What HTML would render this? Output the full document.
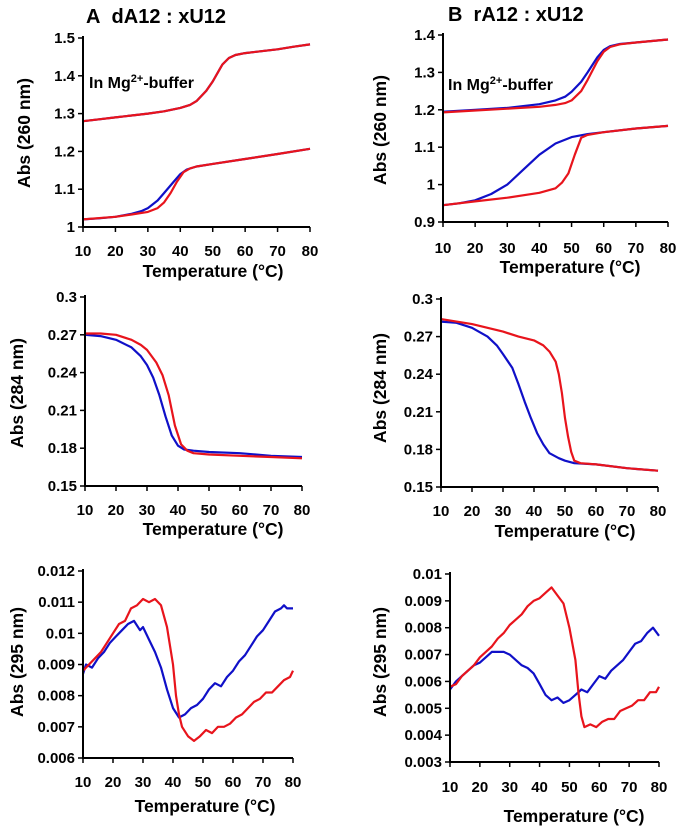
<!DOCTYPE html>
<html><head><meta charset="utf-8">
<style>
body{margin:0;background:#fff;}
svg{display:block;font-family:"Liberation Sans",Arial,sans-serif;font-weight:bold;}
</style></head>
<body>
<svg id="fig" width="694" height="827" viewBox="0 0 694 827"></svg>
<script>
// ---- data ----
const xTicks=[10,20,30,40,50,60,70,80];
const a1Ticks=[1,1.1,1.2,1.3,1.4,1.5];
const a1TopT=[10,15,20,25,30,35,40,43,45,48,50,52,53,55,57,60,65,70,75,80];
const a1TopV=[1.28,1.285,1.29,1.295,1.30,1.306,1.315,1.323,1.333,1.36,1.385,1.415,1.43,1.447,1.455,1.46,1.465,1.47,1.477,1.483];
const a1BlueT=[10,15,20,25,28,30,33,35,38,40,42,45,50,60,70,80];
const a1BlueV=[1.02,1.023,1.027,1.035,1.042,1.05,1.07,1.09,1.12,1.14,1.152,1.16,1.167,1.18,1.193,1.207];
const a1RedT=[10,20,25,30,33,35,37,39,41,43,45,50,60,70,80];
const a1RedV=[1.02,1.027,1.033,1.04,1.05,1.065,1.09,1.12,1.145,1.155,1.16,1.167,1.18,1.193,1.207];

const b1Ticks=[0.9,1,1.1,1.2,1.3,1.4];
const b1TopBlueT=[10,20,30,40,45,48,50,53,55,58,60,62,65,70,80];
const b1TopBlueV=[1.195,1.2,1.205,1.215,1.225,1.235,1.248,1.275,1.3,1.34,1.36,1.37,1.376,1.38,1.388];
const b1TopRedT=[10,20,30,40,45,48,50,53,55,58,60,62,65,70,80];
const b1TopRedV=[1.193,1.198,1.203,1.208,1.213,1.218,1.225,1.25,1.28,1.33,1.355,1.368,1.375,1.38,1.388];
const b1LowBlueT=[10,15,20,25,30,35,40,45,50,55,60,70,80];
const b1LowBlueV=[0.945,0.95,0.958,0.975,1.0,1.04,1.08,1.11,1.127,1.135,1.14,1.15,1.157];
const b1LowRedT=[10,20,30,40,45,47,49,51,53,55,60,70,80];
const b1LowRedV=[0.945,0.955,0.965,0.978,0.99,1.005,1.03,1.08,1.125,1.133,1.14,1.15,1.157];

const mTicks=[0.15,0.18,0.21,0.24,0.27,0.3];
const a2BlueT=[10,15,20,25,28,30,32,34,36,38,40,42,45,50,60,70,80];
const a2BlueV=[0.270,0.269,0.266,0.260,0.253,0.246,0.236,0.222,0.205,0.19,0.182,0.179,0.178,0.177,0.176,0.174,0.173];
const a2RedT=[10,15,20,25,28,30,33,35,37,39,41,43,45,50,60,70,80];
const a2RedV=[0.271,0.271,0.270,0.266,0.262,0.258,0.248,0.238,0.222,0.198,0.183,0.178,0.176,0.175,0.174,0.173,0.172];
const b2BlueT=[10,15,20,25,28,30,33,35,37,39,41,43,45,48,50,53,60,70,80];
const b2BlueV=[0.282,0.281,0.277,0.270,0.263,0.256,0.245,0.232,0.218,0.205,0.193,0.184,0.177,0.173,0.171,0.169,0.168,0.165,0.163];
const b2RedT=[10,15,20,25,30,35,40,43,45,47,48,49,50,51,52,53,55,60,70,80];
const b2RedV=[0.284,0.282,0.280,0.277,0.274,0.270,0.267,0.263,0.258,0.25,0.24,0.225,0.205,0.19,0.178,0.171,0.169,0.168,0.165,0.163];

const a3Ticks=[0.006,0.007,0.008,0.009,0.01,0.011,0.012];
const a3RedT=[10,12,14,16,18,20,22,24,26,28,30,32,34,36,38,40,41,42,43,45,47,49,51,53,55,57,59,61,63,65,67,69,71,73,75,77,79,80];
const a3RedV=[0.0088,0.0090,0.0092,0.0094,0.0097,0.0100,0.0103,0.0104,0.0108,0.0109,0.0111,0.0110,0.0111,0.0109,0.0102,0.0090,0.0080,0.0074,0.0070,0.0067,0.00655,0.0067,0.0069,0.0068,0.0070,0.0070,0.0071,0.0073,0.0074,0.0076,0.0078,0.0079,0.0081,0.0081,0.0083,0.0085,0.0086,0.0088];
const a3BlueT=[10,11,13,15,17,19,21,23,25,27,29,30,32,34,36,38,40,42,44,46,48,50,52,54,56,58,60,62,64,66,68,70,72,74,76,77,78,80];
const a3BlueV=[0.0087,0.0090,0.0089,0.0092,0.0094,0.0097,0.0099,0.0101,0.0103,0.0104,0.0101,0.0102,0.0098,0.0094,0.0089,0.0082,0.0076,0.0073,0.0074,0.0076,0.0077,0.0079,0.0082,0.0084,0.0083,0.0086,0.0088,0.0091,0.0093,0.0096,0.0099,0.0101,0.0104,0.0107,0.0108,0.0109,0.0108,0.0108];

const b3Ticks=[0.003,0.004,0.005,0.006,0.007,0.008,0.009,0.01];
const b3RedT=[10,12,14,16,18,20,22,24,26,28,30,32,34,36,38,40,42,44,46,48,50,52,53,54,55,57,59,61,63,65,67,69,71,73,75,77,79,80];
const b3RedV=[0.0058,0.0059,0.0062,0.0064,0.0066,0.0069,0.0071,0.0073,0.0076,0.0078,0.0081,0.0083,0.0085,0.0088,0.0090,0.0091,0.0093,0.0095,0.0092,0.0089,0.0080,0.0068,0.0056,0.0047,0.0043,0.0044,0.0043,0.0045,0.0046,0.0046,0.0049,0.0050,0.0051,0.0053,0.0053,0.0056,0.0056,0.0058];
const b3BlueT=[10,12,14,16,18,20,22,24,26,28,30,32,34,36,38,40,42,44,46,48,50,52,54,56,58,60,62,64,66,68,70,72,74,76,78,80];
const b3BlueV=[0.0057,0.0060,0.0062,0.0064,0.0066,0.0067,0.0069,0.0071,0.0071,0.0071,0.0070,0.0068,0.0066,0.0065,0.0063,0.0059,0.0055,0.0053,0.0054,0.0052,0.0053,0.0055,0.0057,0.0056,0.0059,0.0062,0.0061,0.0064,0.0066,0.0068,0.0071,0.0074,0.0075,0.0078,0.0080,0.0077];

// ---- drawing ----
const NS="http://www.w3.org/2000/svg";
const svg=document.getElementById('fig');
function mk(tag,attrs,parent){const e=document.createElementNS(NS,tag);for(const k in attrs)e.setAttribute(k,attrs[k]);(parent||svg).appendChild(e);return e;}
function txt(s,x,y,size,anchor,parent,name){const t=mk('text',{x:x,y:y,'font-size':size,'text-anchor':anchor},parent);t.textContent=s;


return t;}

function panel(p){
  const g=mk('g',{});
  
  
  const ymin=p.yt[0],ymax=p.yt[p.yt.length-1];
  const X=t=>p.x0+(t-10)/70*(p.x1-p.x0);
  const Y=v=>p.yb+(v-ymin)/(ymax-ymin)*(p.yt0-p.yb);
  p.series.forEach(s=>{
    const d=s.t.map((t,i)=>(i?'L':'M')+X(t).toFixed(1)+','+Y(s.v[i]).toFixed(1)).join('');
    const path=mk('path',{d:d,fill:'none',stroke:s.c,'stroke-width':2.2,'stroke-linejoin':'round'},g);
    
    
  });
  const ax=mk('path',{d:`M${p.x0},${p.yt0-2}V${p.yb}H${p.x1}`,fill:'none',stroke:'#000','stroke-width':2},g);
  
  
  xTicks.forEach(t=>{
    mk('line',{x1:X(t),x2:X(t),y1:p.yb,y2:p.yb+5,stroke:'#000','stroke-width':1.5},g);
    txt(String(t),X(t),p.xly,15,'middle',g,'x-tick-label');
  });
  p.yt.forEach(v=>{
    mk('line',{x1:p.x0-5,x2:p.x0,y1:Y(v),y2:Y(v),stroke:'#000','stroke-width':1.5},g);
    txt(String(v),p.x0-8,Y(v)+5,15,'end',g,'y-tick-label');
  });
  txt('Temperature (°C)',p.xtx,p.xty,17.5,'middle',g,'x-axis-title');
  const yt=txt(p.ylab,0,0,17.5,'middle',g,'y-axis-title');
  yt.setAttribute('transform',`translate(${p.ytx},${p.yty}) rotate(-90)`);
}

panel({name:'panel-a-260',x0:83,x1:310,yb:227,yt0:38,yt:a1Ticks,xly:256,xtx:213,xty:277,ylab:'Abs (260 nm)',ytx:30,yty:133,
 series:[{t:a1TopT,v:a1TopV,c:'#1010c8',n:'a-top-blue'},{t:a1TopT,v:a1TopV,c:'#e8141c',n:'a-top-red'},
 {t:a1BlueT,v:a1BlueV,c:'#1010c8',n:'a-low-blue'},{t:a1RedT,v:a1RedV,c:'#e8141c',n:'a-low-red'}]});
panel({name:'panel-b-260',x0:443,x1:668,yb:222,yt0:35,yt:b1Ticks,xly:253,xtx:570,xty:273,ylab:'Abs (260 nm)',ytx:386,yty:130,
 series:[{t:b1TopBlueT,v:b1TopBlueV,c:'#1010c8',n:'b-top-blue'},{t:b1TopRedT,v:b1TopRedV,c:'#e8141c',n:'b-top-red'},
 {t:b1LowBlueT,v:b1LowBlueV,c:'#1010c8',n:'b-low-blue'},{t:b1LowRedT,v:b1LowRedV,c:'#e8141c',n:'b-low-red'}]});
panel({name:'panel-a-284',x0:85,x1:302,yb:486,yt0:297,yt:mTicks,xly:515,xtx:213,xty:535,ylab:'Abs (284 nm)',ytx:23,yty:393,
 series:[{t:a2BlueT,v:a2BlueV,c:'#1010c8',n:'a284-blue'},{t:a2RedT,v:a2RedV,c:'#e8141c',n:'a284-red'}]});
panel({name:'panel-b-284',x0:441,x1:658,yb:487,yt0:299,yt:mTicks,xly:516,xtx:565,xty:537,ylab:'Abs (284 nm)',ytx:386,yty:388,
 series:[{t:b2BlueT,v:b2BlueV,c:'#1010c8',n:'b284-blue'},{t:b2RedT,v:b2RedV,c:'#e8141c',n:'b284-red'}]});
panel({name:'panel-a-295',x0:83,x1:293,yb:758,yt0:571,yt:a3Ticks,xly:787,xtx:205,xty:812,ylab:'Abs (295 nm)',ytx:23,yty:662,
 series:[{t:a3BlueT,v:a3BlueV,c:'#1010c8',n:'a295-blue'},{t:a3RedT,v:a3RedV,c:'#e8141c',n:'a295-red'}]});
panel({name:'panel-b-295',x0:450,x1:659,yb:762,yt0:574,yt:b3Ticks,xly:792,xtx:574,xty:822,ylab:'Abs (295 nm)',ytx:386,yty:662,
 series:[{t:b3BlueT,v:b3BlueV,c:'#1010c8',n:'b295-blue'},{t:b3RedT,v:b3RedV,c:'#e8141c',n:'b295-red'}]});

txt('A\u00a0\u00a0dA12 : xU12',86,23,20,'start',svg,'panel-a-title');
txt('B\u00a0\u00a0rA12 : xU12',448,21,20,'start',svg,'panel-b-title');
function mg(x,y,name){const t=mk('text',{x:x,y:y,'font-size':16,'text-anchor':'start'});


t.innerHTML='In Mg<tspan font-size="11" dy="-6">2+</tspan><tspan dy="6">-buffer</tspan>';}
mg(89,88,'buffer-label-a');
mg(448,90,'buffer-label-b');
</script>
</body></html>
